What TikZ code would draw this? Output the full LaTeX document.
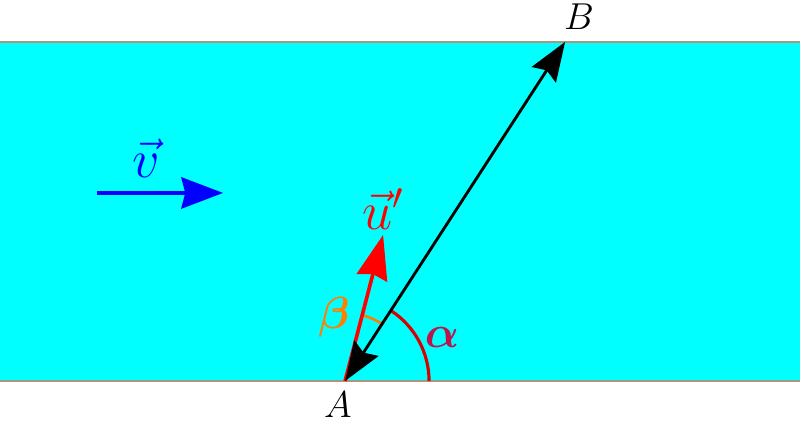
\documentclass[tikz,border=0pt]{standalone}
\usepackage{amsmath}
\usepackage{bm}
\usetikzlibrary{arrows.meta}
\definecolor{shore}{RGB}{170,150,125}
\definecolor{river}{RGB}{0,255,255}
\definecolor{alphacol}{RGB}{190,20,75}

\begin{document}
\begin{tikzpicture}[scale=1.35]
	\useasboundingbox (0,0) rectangle (8,4.22);
	\fill[river] (0,0.41) rectangle (8,3.80);
	
	\foreach \y in {0.41, 3.80}
	\draw[shore, line width=0.8pt] (0,\y) -- (8,\y);
	
	\coordinate (A) at (3.45,0.41);
	\coordinate (B) at (5.65,3.80);
	\coordinate (U) at (3.83,1.87);
	\coordinate (V1) at (0.97,2.29);
	\coordinate (V2) at (2.23,2.29);
	
	\draw[red!85!black, line width=1.2pt] (A) ++(0:0.84) arc (0:57:0.84);
	\draw[orange, line width=1pt] (A) ++(57:0.68) arc (57:75:0.68);
	
	\draw[-{Stealth[length=17pt,width=12pt,inset=1.5pt]}, red, line width=1.4pt] (A) -- (U);
	\draw[{Stealth[length=15pt,width=11pt,inset=2pt]}-{Stealth[length=15pt,width=11pt,inset=2pt]}, line width=1.1pt] (A) -- (B);
	\draw[-{Stealth[length=16pt,width=12pt,inset=1.5pt]}, blue, line width=1.4pt] (V1) -- (V2);
	
	\node (labA) at (3.38,0.17) {\Large $A$};
	\node (labB) at (5.79,4.05) {\Large $B$};
	\node[red] (labU) at (3.83,2.13) {\huge $\vec{u}'$};
	\node[blue] (labV) at (1.46,2.64) {\huge $\vec{v}$};
	\node[alphacol] (labAlpha) at (4.42,0.84) {\LARGE $\bm{\alpha}$};
	\node[orange] (labBeta) at (3.34,1.05) {\LARGE $\bm{\beta}$};
\end{tikzpicture}
\end{document}
